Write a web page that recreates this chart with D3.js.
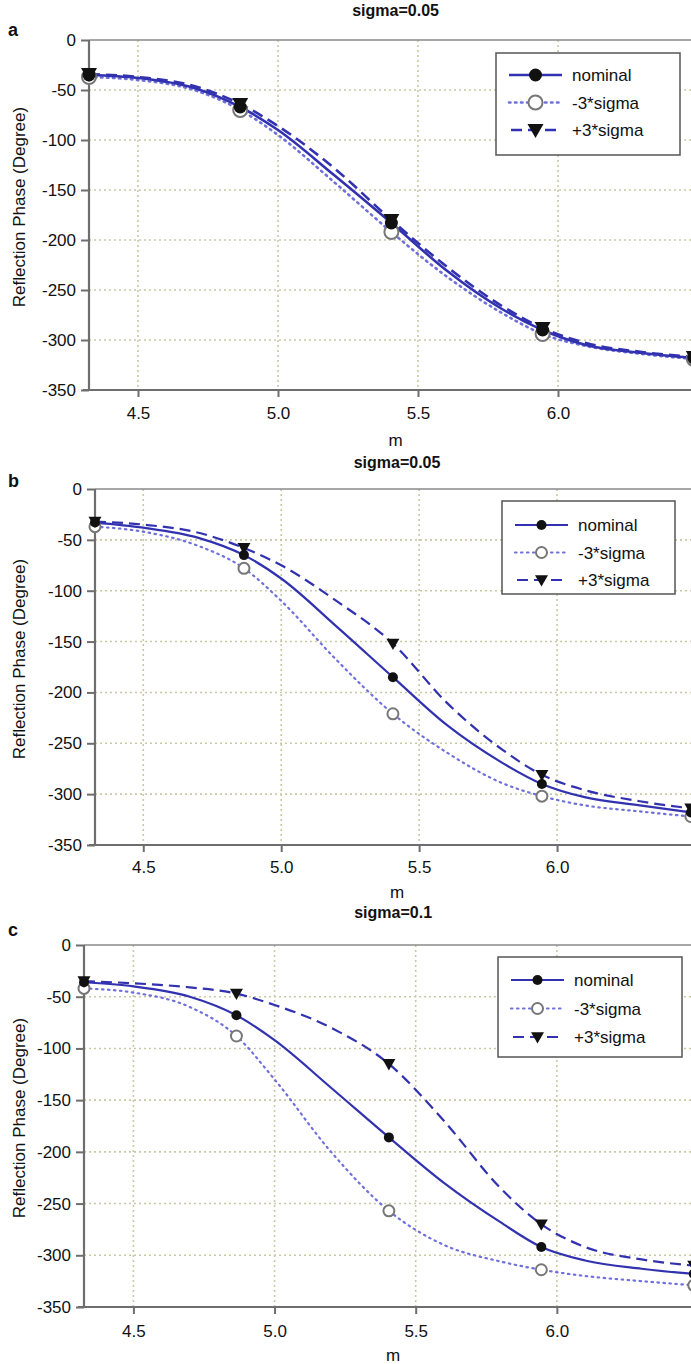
<!DOCTYPE html>
<html>
<head>
<meta charset="utf-8">
<script src="https://cdn.jsdelivr.net/npm/d3@7"></script>
<style>
  html, body { margin: 0; padding: 0; background: #fff; }
  svg { display: block; font-family: "Liberation Sans", Arial, sans-serif; }
</style>
</head>
<body>
<svg id="chart" width="691" height="1364"></svg>
<script>
// ---- data -------------------------------------------------------------
const panelLetters = ["a", "b", "c"];
const panelTitles = ["sigma=0.05", "sigma=0.05", "sigma=0.1"];
const seriesNames = ["nominal", "-3*sigma", "+3*sigma"];
const xTicks = [4.5, 5.0, 5.5, 6.0];
const yTicks = [0, -50, -100, -150, -200, -250, -300, -350];
const xLabel = "m";
const yLabel = "Reflection Phase (Degree)";

// sample positions along m (markers sit on every third sample)
const mSamples = [4.325, 4.5, 4.7, 4.865, 5.0, 5.2, 5.405, 5.6, 5.8, 5.945, 6.1, 6.3, 6.485];
const markerIndex = [0, 3, 6, 9, 12];

// panel a
const aNominal = [-35, -38, -48, -67, -90, -135, -183, -230, -269, -290, -305, -313, -318];
const aMinus   = [-37, -40, -50, -70, -95, -142, -192, -236, -273, -294, -306, -314, -319];
const aPlus    = [-34, -37, -46, -64, -86, -128, -180, -226, -266, -288, -303, -312, -317];
// panel b
const bNominal = [-33, -38, -48, -65, -88, -135, -185, -232, -269, -290, -303, -311, -318];
const bMinus   = [-37, -42, -56, -78, -110, -168, -221, -259, -289, -302, -311, -317, -322];
const bPlus    = [-32, -35, -43, -58, -75, -110, -152, -210, -256, -281, -296, -307, -314];
// panel c
const cNominal = [-36, -40, -50, -68, -92, -138, -186, -230, -268, -292, -305, -313, -318];
const cMinus   = [-42, -46, -60, -88, -130, -200, -257, -290, -306, -314, -320, -325, -329];
const cPlus    = [-35, -37, -41, -47, -58, -80, -115, -170, -235, -270, -292, -304, -310];

const panelSeries = [
  [aNominal, aMinus, aPlus],
  [bNominal, bMinus, bPlus],
  [cNominal, cMinus, cPlus]
];

// ---- layout -----------------------------------------------------------
const panels = [
  { top: 40,  bottom: 390,  left: 89, right: 698, titleY: 16,  letterY: 36,  tickY: 419,  labelY: 446,
    legend: { x: 496, y: 53,  w: 184, h: 102, row0: 75,  dy: 27.5 }, big: true },
  { top: 489, bottom: 845,  left: 95, right: 695, titleY: 468, letterY: 487, tickY: 873,  labelY: 898,
    legend: { x: 502, y: 501, w: 173, h: 93,  row0: 525, dy: 27.5 }, big: false },
  { top: 945, bottom: 1307, left: 84, right: 698, titleY: 918, letterY: 936, tickY: 1337, labelY: 1361,
    legend: { x: 498, y: 957, w: 184, h: 100, row0: 980, dy: 28.5 }, big: false }
];

const blue = "#3232b0";
const lightBlue = "#7070dc";
const gridColor = "#c9c9a6";
const fontFamily = '"Liberation Sans", Arial, sans-serif';

const svg = d3.select("#chart");

panels.forEach((p, pi) => {
  const g = svg.append("g");
  const x = d3.scaleLinear().domain([4.325, 6.5]).range([p.left, p.right]);
  const y = d3.scaleLinear().domain([0, -350]).range([p.top, p.bottom]);

  // grid
  g.append("g").selectAll("line").data(xTicks).join("line")
    .attr("x1", d => x(d)).attr("x2", d => x(d))
    .attr("y1", p.top).attr("y2", p.bottom)
    .attr("stroke", gridColor).attr("stroke-width", 1.6).attr("stroke-dasharray", "2,3");
  g.append("g").selectAll("line").data(yTicks.slice(1)).join("line")
    .attr("x1", p.left).attr("x2", 691)
    .attr("y1", d => y(d)).attr("y2", d => y(d))
    .attr("stroke", gridColor).attr("stroke-width", 1.6).attr("stroke-dasharray", "2,3");

  // top frame line
  g.append("line").attr("x1", p.left).attr("x2", 691).attr("y1", p.top).attr("y2", p.top)
    .attr("stroke", "#8a8a8a").attr("stroke-width", 1.5);

  // axes (plain hyphen for negative numbers)
  const yAxis = d3.axisLeft(y).tickValues(yTicks).tickSize(8).tickPadding(5).tickFormat(d => String(d));
  const ya = g.append("g").attr("transform", `translate(${p.left},0)`).call(yAxis);
  const xAxis = d3.axisBottom(x).tickValues(xTicks).tickSize(7).tickPadding(6).tickFormat(d => d.toFixed(1));
  const xa = g.append("g").attr("transform", `translate(0,${p.bottom})`).call(xAxis);
  [ya, xa].forEach(a => {
    a.select(".domain").attr("stroke", "#6e6e6e").attr("stroke-width", 2.2);
    a.selectAll(".tick line").attr("stroke", "#6e6e6e").attr("stroke-width", 2);
    a.selectAll(".tick text").attr("fill", "#111").style("font-size", "17px")
      .style("font-family", fontFamily);
  });
  ya.select(".domain").attr("d", `M0,${p.top}V${p.bottom}`);
  xa.select(".domain").attr("d", `M${p.left - 6},0H691`);
  xa.selectAll(".tick text").attr("y", null).attr("dy", null)
    .attr("transform", `translate(0,${p.tickY - p.bottom})`);

  // axis titles
  g.append("text").attr("x", x(5.42)).attr("y", p.labelY).attr("text-anchor", "middle")
    .style("font-size", "17px").attr("fill", "#111").text(xLabel);
  g.append("text")
    .attr("transform", `translate(25,${(p.top + p.bottom) / 2 - 8}) rotate(-90)`)
    .attr("text-anchor", "middle").style("font-size", "17px").attr("fill", "#111").text(yLabel);

  // panel title and letter
  g.append("text").attr("x", x(5.42)).attr("y", p.titleY).attr("text-anchor", "middle")
    .style("font-size", "16px").style("font-weight", "bold").attr("fill", "#111").text(panelTitles[pi]);
  g.append("text").attr("x", 8).attr("y", p.letterY)
    .style("font-size", "18px").style("font-weight", "bold").attr("fill", "#111").text(panelLetters[pi]);

  // curves
  const line = d3.line().x((d, i) => x(mSamples[i])).y(d => y(d)).curve(d3.curveMonotoneX);
  const [nom, minus, plus] = panelSeries[pi];
  const lw = p.big ? 2.6 : 2.2;
  g.append("path").attr("d", line(minus)).attr("fill", "none")
    .attr("stroke", lightBlue).attr("stroke-width", lw).attr("stroke-dasharray", "1.5,4.5").attr("stroke-linecap", "round");
  g.append("path").attr("d", line(plus)).attr("fill", "none")
    .attr("stroke", blue).attr("stroke-width", lw).attr("stroke-dasharray", "11,6");
  g.append("path").attr("d", line(nom)).attr("fill", "none")
    .attr("stroke", blue).attr("stroke-width", lw);

  // markers
  const rFill = p.big ? 6.5 : 5;
  const rOpen = p.big ? 7 : 5.5;
  const tri = p.big ? 8 : 6.5;
  const triPath = s => `M${-s},${-s * 0.75}L${s},${-s * 0.75}L0,${s}Z`;
  g.append("g").selectAll("circle").data(markerIndex).join("circle")
    .attr("cx", i => x(mSamples[i])).attr("cy", i => y(minus[i])).attr("r", rOpen)
    .attr("fill", "#fff").attr("stroke", "#777").attr("stroke-width", 2);
  g.append("g").selectAll("circle").data(markerIndex).join("circle")
    .attr("cx", i => x(mSamples[i])).attr("cy", i => y(nom[i])).attr("r", rFill)
    .attr("fill", "#111");
  g.append("g").selectAll("path").data(markerIndex).join("path")
    .attr("transform", i => `translate(${x(mSamples[i])},${y(plus[i])})`)
    .attr("d", triPath(tri)).attr("fill", "#111");

  // legend
  const L = p.legend;
  const lg = g.append("g");
  lg.append("rect").attr("x", L.x).attr("y", L.y).attr("width", L.w).attr("height", L.h)
    .attr("fill", "#fff").attr("stroke", "#555").attr("stroke-width", 1.5);
  const lx0 = L.x + 13, lx1 = L.x + 66, lmx = (lx0 + lx1) / 2;
  seriesNames.forEach((name, k) => {
    const ry = L.row0 + k * L.dy;
    const ln = lg.append("line").attr("x1", lx0).attr("x2", lx1).attr("y1", ry).attr("y2", ry)
      .attr("stroke-width", lw);
    if (k === 0) ln.attr("stroke", blue);
    if (k === 1) ln.attr("stroke", lightBlue).attr("stroke-dasharray", "1.5,4.5").attr("stroke-linecap", "round");
    if (k === 2) ln.attr("stroke", blue).attr("stroke-dasharray", "11,6").attr("stroke-dashoffset", -2);
    if (k === 0) lg.append("circle").attr("cx", lmx).attr("cy", ry).attr("r", rFill).attr("fill", "#111");
    if (k === 1) lg.append("circle").attr("cx", lmx).attr("cy", ry).attr("r", rOpen)
      .attr("fill", "#fff").attr("stroke", "#777").attr("stroke-width", 2);
    if (k === 2) lg.append("path").attr("transform", `translate(${lmx},${ry})`).attr("d", triPath(tri)).attr("fill", "#111");
    lg.append("text").attr("x", L.x + 76).attr("y", ry + 6)
      .style("font-size", "17px").attr("fill", "#111").text(name);
  });
});
</script>
</body>
</html>
